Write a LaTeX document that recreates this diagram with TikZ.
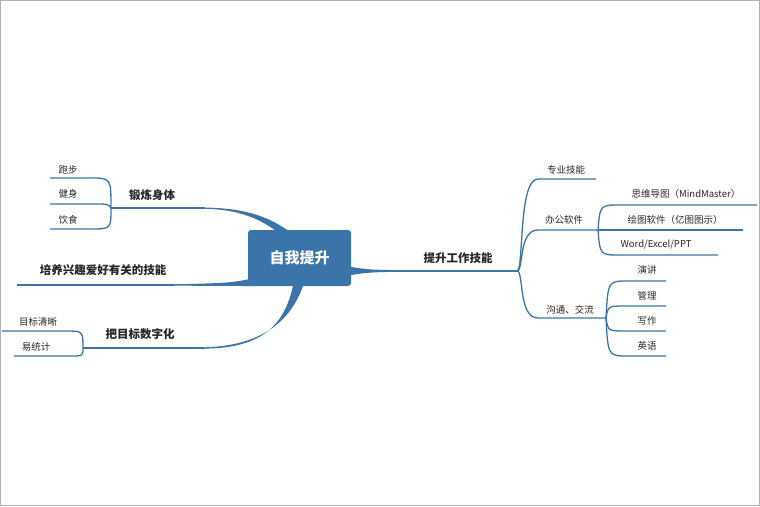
\documentclass[tikz,border=0pt]{standalone}
\usepackage{fontspec}
\setmainfont{Noto Sans CJK SC}
\begin{document}
\begin{tikzpicture}[x=1pt,y=-1pt,
  br/.style={draw=bl,line width=1.3pt},
  lbl/.style={font=\fontsize{9.5}{10}\selectfont,text=black!85,inner sep=0pt},
  mlbl/.style={font=\fontsize{11.5}{12}\selectfont\bfseries,text=black!85,inner sep=0pt}]
\definecolor{bl}{HTML}{3A74A8}
\useasboundingbox (0,0) rectangle (760,506);
\draw[black!30] (0.5,0.5) rectangle (759.5,505.5);
% thick connectors (tapered)
\fill[bl] (345,266) .. controls (370,270) .. (420,270.2) -- (420,271.6) .. controls (370,272) .. (345,276) -- cycle;
\fill[bl] (290,232) .. controls (260,210) and (230,208) .. (200,207.4) -- (200,208.6) .. controls (230,209) and (255,214) .. (280,234) -- cycle;
\fill[bl] (255,278) .. controls (230,283) .. (170,284.4) -- (170,285.6) .. controls (230,286) .. (255,286) -- cycle;
\fill[bl] (305,280) .. controls (290,330) and (250,347) .. (200,347.4) -- (200,348.6) .. controls (250,349) and (285,335) .. (294,280) -- cycle;
% central
\node[fill=bl,rounded corners=3pt,minimum width=103pt,minimum height=56pt,text=white,
  font=\fontsize{15}{16}\selectfont\bfseries] (root) at (299.5,258) {自我提升};
% main labels
\node[mlbl] (work) at (458,258) {提升工作技能};
\node[mlbl] (body) at (152,195) {锻炼身体};
\node[mlbl] (hobby) at (103,270) {培养兴趣爱好有关的技能};
\node[mlbl] (goal) at (140,334) {把目标数字化};
% main underlines
\draw[br] (380,271) -- (517,271);
\draw[br] (111,208) -- (205,208);
\draw[br] (17,285) -- (175,285);
\draw[br] (83,348) -- (205,348);
\coordinate (fw) at (517,271);
\coordinate (fb) at (111,208);
\coordinate (fg) at (83,348);
% right forks
\node[lbl] (zy) at (566,170) {专业技能};
\node[lbl] (bg) at (564,220) {办公软件};
\node[lbl] (gt) at (570,310) {沟通、交流};
\draw[br] (fw) .. controls (524,271) and (518,179) .. (538,179) -- (596,179);
\draw[br] (fw) .. controls (524,271) and (518,230) .. (538,230) -- (598,230);
\draw[br] (fw) .. controls (524,271) and (518,318) .. (538,318) -- (606,318);
\coordinate (fo) at (598,230);
\coordinate (fc) at (606,318);
\node[lbl] (sw) at (686,194) {思维导图（MindMaster）};
\node[lbl] (ht) at (675,220) {绘图软件（亿图图示）};
\node[lbl] (wd) at (656,245) {Word/Excel/PPT};
\draw[br] (fo) .. controls (600,205) .. (620,205) -- (757,205);
\draw[br] (fo) -- (743,230);
\draw[br] (fo) .. controls (600,255) .. (620,255) -- (718,255);
\node[lbl] (yj) at (647,270) {演讲};
\node[lbl] (gl) at (647,296) {管理};
\node[lbl] (xz) at (647,321) {写作};
\node[lbl] (yy) at (647,346) {英语};
\draw[br] (fc) .. controls (608,281) .. (628,281) -- (666,281);
\draw[br] (fc) .. controls (608,306) .. (626,306) -- (666,306);
\draw[br] (fc) .. controls (608,331) .. (626,331) -- (666,331);
\draw[br] (fc) .. controls (608,356) .. (628,356) -- (666,356);
% left forks
\node[lbl] (pb) at (68,170) {跑步};
\node[lbl] (js) at (68,194) {健身};
\node[lbl] (ys) at (68,220) {饮食};
\draw[br] (fb) .. controls (111,178) .. (90,178) -- (50,178);
\draw[br] (fb) .. controls (108,204) .. (95,204) -- (50,204);
\draw[br] (fb) .. controls (111,229) .. (90,229) -- (50,229);
\node[lbl] (mb) at (38,322) {目标清晰};
\node[lbl] (ytj) at (36,347) {易统计};
\draw[br] (fg) .. controls (83,331) .. (65,331) -- (2,331);
\draw[br] (fg) .. controls (83,356) .. (70,356) -- (14,356);
\end{tikzpicture}
\end{document}
